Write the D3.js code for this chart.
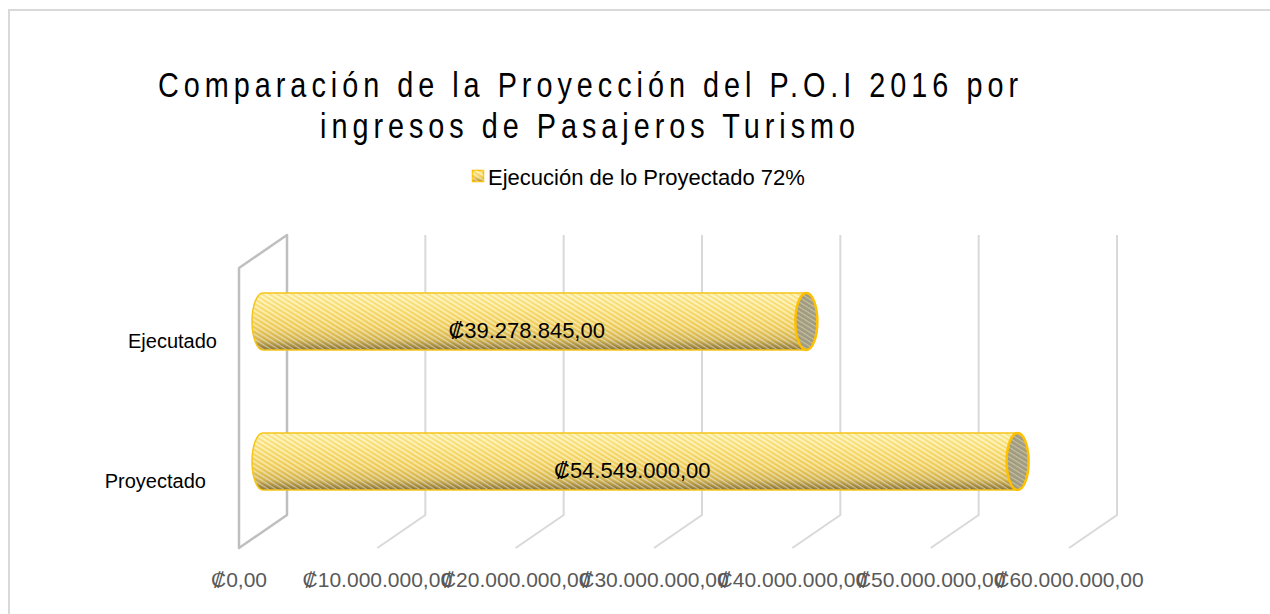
<!DOCTYPE html>
<html>
<head>
<meta charset="utf-8">
<script src="https://cdn.jsdelivr.net/npm/d3@7"></script>
<style>
  body { margin: 0; background: #fff; }
  svg { display: block; }
</style>
</head>
<body>
<div id="chart"></div>
<script>
var categories = ["Ejecutado", "Proyectado"];
var values = [39278845, 54549000];
var ticks = [0, 10000000, 20000000, 30000000, 40000000, 50000000, 60000000];
var titleLines = ["Comparación de la Proyección del P.O.I 2016 por", "ingresos de Pasajeros Turismo"];
var legendLabel = "Ejecución de lo Proyectado 72%";

var svgWidth = 1270;
var svgHeight = 614;

// 3d box: back plane and the shift to the front plane
var back = { left: 287, right: 1117, top: 235, bottom: 515 };
var depth = { dx: -48, dy: 33 };

var svg = d3.select("#chart").append("svg")
  .attr("width", svgWidth)
  .attr("height", svgHeight);

var defs = svg.append("defs");

var grad = defs.append("linearGradient")
  .attr("id", "body")
  .attr("x1", 0).attr("y1", 0).attr("x2", 0).attr("y2", 1);
[["0%", "#fff0a0"], ["30%", "#fbe27a"], ["60%", "#f0d060"], ["82%", "#cfb252"], ["100%", "#7a6630"]]
  .forEach(function (s) { grad.append("stop").attr("offset", s[0]).attr("stop-color", s[1]); });

// thin stripes falling to the right
var hatch = defs.append("pattern")
  .attr("id", "hatch")
  .attr("patternUnits", "userSpaceOnUse")
  .attr("width", 5).attr("height", 4)
  .attr("patternTransform", "rotate(32)");
hatch.append("rect").attr("width", 5).attr("height", 1.4).attr("fill", "#ffffff").attr("opacity", 0.5);
hatch.append("rect").attr("y", 2.2).attr("width", 5).attr("height", 0.9).attr("fill", "#d9a820").attr("opacity", 0.3);

var capHatch = defs.append("pattern")
  .attr("id", "capHatch")
  .attr("patternUnits", "userSpaceOnUse")
  .attr("width", 4).attr("height", 4)
  .attr("patternTransform", "rotate(32)");
capHatch.append("rect").attr("width", 4).attr("height", 4).attr("fill", "#9f9a82");
capHatch.append("rect").attr("width", 4).attr("height", 1.2).attr("fill", "#c9c29c");

// chart border
svg.append("rect")
  .attr("x", 9).attr("y", 10)
  .attr("width", 1300).attr("height", 700)
  .attr("fill", "none")
  .attr("stroke", "#d9d9d9")
  .attr("stroke-width", 2);

var x = d3.scaleLinear().domain([0, 60000000]).range([back.left, back.right]);

var y = d3.scaleBand()
  .domain(categories)
  .range([back.top + depth.dy / 2, back.bottom + depth.dy / 2])
  .paddingInner(0.593)
  .paddingOuter(0.2965);

function colones(v) {
  return "₡" + d3.format(",.2f")(v).replace(/,/g, "#").replace(".", ",").replace(/#/g, ".");
}

// gridlines: back vertical + floor diagonal
var grid = svg.append("g");
ticks.slice(1).forEach(function (t) {
  grid.append("path")
    .attr("d", "M" + x(t) + "," + back.top + "V" + back.bottom +
      "l" + depth.dx + "," + depth.dy)
    .attr("fill", "none")
    .attr("stroke", "#d9d9d9")
    .attr("stroke-width", 2);
});

// left wall
svg.append("path")
  .attr("d", "M" + x(0) + "," + back.top + "V" + back.bottom +
    "l" + depth.dx + "," + depth.dy +
    "V" + (back.top + depth.dy) + "Z")
  .attr("fill", "none")
  .attr("stroke", "#bfbfbf")
  .attr("stroke-width", 2.5)
  .attr("stroke-linejoin", "round");

// tick labels on the front edge
svg.append("g").selectAll("text")
  .data(ticks)
  .enter()
  .append("text")
  .attr("x", function (d) { return x(d) + depth.dx; })
  .attr("y", 587)
  .attr("text-anchor", "middle")
  .attr("font-family", "'Liberation Sans', Arial, sans-serif")
  .attr("font-size", 21)
  .attr("fill", "#595959")
  .text(colones);

// cylinders
var rx = 11;
var bars = svg.append("g").selectAll("g")
  .data(categories)
  .enter()
  .append("g");

bars.each(function (c, i) {
  var g = d3.select(this);
  var x0 = x(0) + depth.dx / 2;
  var x1 = x(values[i]) + depth.dx / 2;
  var yt = y(c);
  var yb = y(c) + y.bandwidth();
  var ry = y.bandwidth() / 2;
  var d = "M" + x0 + "," + yt + "H" + x1 + "V" + yb + "H" + x0 +
    "A" + rx + "," + ry + " 0 0 1 " + x0 + "," + yt + "Z";
  g.append("path").attr("d", d).attr("fill", "url(#body)");
  g.append("path").attr("d", d).attr("fill", "url(#hatch)");
  g.append("path").attr("d", d)
    .attr("fill", "none")
    .attr("stroke", "#f5c518")
    .attr("stroke-width", 1.5);
  g.append("ellipse")
    .attr("cx", x1).attr("cy", yt + ry)
    .attr("rx", rx).attr("ry", ry)
    .attr("fill", "url(#capHatch)")
    .attr("stroke", "#ffc000")
    .attr("stroke-width", 2.5);

  g.append("text")
    .attr("x", (x0 + x1) / 2 - 8)
    .attr("y", yt + ry + 16)
    .attr("text-anchor", "middle")
    .attr("font-family", "'Liberation Sans', Arial, sans-serif")
    .attr("font-size", 22)
    .attr("fill", "#000")
    .text(colones(values[i]));
});

// category labels
svg.append("g").selectAll("text")
  .data(categories)
  .enter()
  .append("text")
  .attr("x", function (d) { return 217 - (y(d) - y(categories[0])) * 11 / 139; })
  .attr("y", function (d) { return y(d) + y.bandwidth() / 2 + 26; })
  .attr("text-anchor", "end")
  .attr("font-family", "'Liberation Sans', Arial, sans-serif")
  .attr("font-size", 20)
  .attr("fill", "#000")
  .text(function (d) { return d; });

// title: narrow, widely spaced
var squeeze = 0.8;
svg.append("g")
  .attr("transform", "scale(" + squeeze + ",1)")
  .selectAll("text")
  .data(titleLines)
  .enter()
  .append("text")
  .attr("x", function (d, i) { return (i === 0 ? 158 : 320) / squeeze; })
  .attr("y", function (d, i) { return 97 + i * 41; })
  .attr("textLength", function (d, i) { return (i === 0 ? 860 : 535) / squeeze; })
  .attr("lengthAdjust", "spacing")
  .attr("font-family", "'Liberation Sans', Arial, sans-serif")
  .attr("font-size", 36)
  .attr("fill", "#000")
  .text(function (d) { return d; });

// legend
var legend = svg.append("g");
legend.append("rect")
  .attr("x", 472.5).attr("y", 170.5)
  .attr("width", 11).attr("height", 11)
  .attr("fill", "url(#body)")
  .attr("stroke", "#ffc000")
  .attr("stroke-width", 1.5);
legend.append("rect")
  .attr("x", 472.5).attr("y", 170.5)
  .attr("width", 11).attr("height", 11)
  .attr("fill", "url(#hatch)");
legend.append("text")
  .attr("x", 488)
  .attr("y", 185)
  .attr("font-family", "'Liberation Sans', Arial, sans-serif")
  .attr("font-size", 22)
  .attr("fill", "#000")
  .text(legendLabel);
</script>
</body>
</html>
